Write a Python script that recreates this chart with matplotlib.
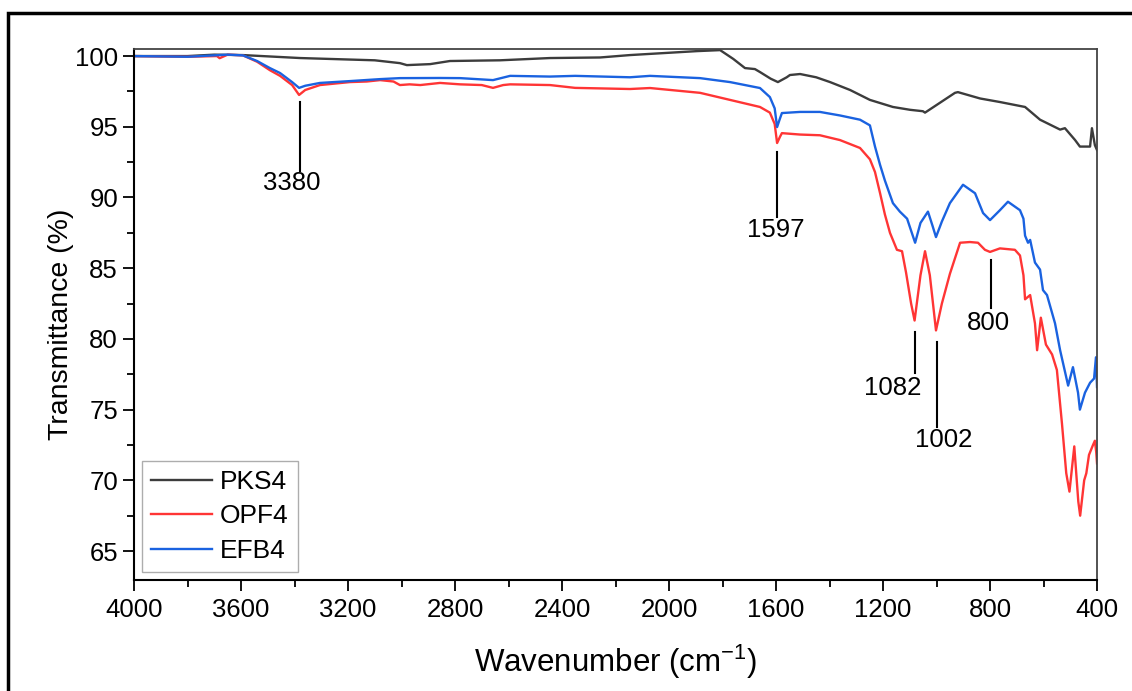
import matplotlib
matplotlib.use("Agg")
import matplotlib.pyplot as plt
from matplotlib.patches import Rectangle
from matplotlib.ticker import MultipleLocator

plt.rcParams["font.family"] = ["Liberation Sans", "DejaVu Sans"]
plt.rcParams["mathtext.fontset"] = "custom"
plt.rcParams["mathtext.rm"] = "Liberation Sans"
plt.rcParams["mathtext.it"] = "Liberation Sans"

# spectra: wavenumber (cm-1) and transmittance (%)
pks_wn = [4000, 3800, 3700, 3593, 3379, 3100, 3006, 2980, 2893, 2819, 2632,
          2445, 2258, 2146, 1895, 1809, 1760, 1716, 1679, 1660, 1620, 1593,
          1560, 1548, 1510, 1450, 1398, 1323, 1249, 1163, 1099, 1051, 1043,
          987, 931, 920, 837, 763, 669, 613, 538, 520, 482, 464, 426, 419,
          408, 400]
pks_t = [100.0, 100.0, 100.1, 100.07, 99.86, 99.7, 99.5, 99.36, 99.43, 99.65,
         99.7, 99.86, 99.9, 100.07, 100.35, 100.42, 99.8, 99.15, 99.08, 98.87,
         98.4, 98.16, 98.5, 98.66, 98.73, 98.5, 98.16, 97.6, 96.9, 96.4, 96.2,
         96.1, 96.0, 96.7, 97.4, 97.45, 97.0, 96.75, 96.4, 95.5, 94.8, 94.9,
         94.06, 93.6, 93.6, 94.9, 93.7, 93.35]

opf_wn = [4000, 3800, 3690, 3680, 3650, 3593, 3540, 3492, 3454, 3409, 3383,
          3360, 3305, 3193, 3130, 3080, 3030, 3006, 2970, 2930, 2856, 2781,
          2700, 2658, 2620, 2594, 2445, 2351, 2146, 2071, 1884, 1772, 1660,
          1623, 1605, 1596, 1585, 1578, 1510, 1436, 1361, 1286, 1249, 1230,
          1211, 1193, 1174, 1148, 1129, 1114, 1095, 1082, 1060, 1043, 1025,
          1002, 980, 950, 912, 875, 845, 819, 800, 763, 707, 688, 675, 669,
          650, 632, 624, 610, 591, 568, 550, 531, 515, 503, 485, 470, 463,
          448, 440, 430, 415, 408, 403, 400]
opf_t = [100.0, 99.95, 100.0, 99.85, 100.1, 100.05, 99.6, 99.0, 98.6, 97.95,
         97.25, 97.6, 97.95, 98.16, 98.2, 98.3, 98.2, 97.95, 98.0, 97.95, 98.1,
         98.0, 97.95, 97.75, 97.95, 98.0, 97.95, 97.75, 97.67, 97.74, 97.4,
         96.9, 96.4, 96.0, 95.2, 93.85, 94.3, 94.55, 94.45, 94.4, 94.06, 93.5,
         92.7, 91.8, 90.3, 88.8, 87.5, 86.3, 86.2, 84.7, 82.5, 81.3, 84.5,
         86.2, 84.5, 80.6, 82.5, 84.6, 86.8, 86.85, 86.8, 86.3, 86.15, 86.4,
         86.3, 85.9, 84.5, 82.8, 83.1, 81.1, 79.2, 81.5, 79.6, 78.9, 77.8,
         74.0, 70.5, 69.2, 72.4, 68.5, 67.5, 70.0, 70.5, 71.8, 72.5, 72.8,
         72.0, 71.2]

efb_wn = [4000, 3800, 3650, 3593, 3540, 3492, 3454, 3409, 3383, 3360, 3305,
          3193, 3080, 3006, 2856, 2781, 2658, 2594, 2445, 2351, 2146, 2071,
          1884, 1772, 1660, 1623, 1605, 1596, 1585, 1578, 1510, 1436, 1361,
          1286, 1249, 1230, 1211, 1193, 1163, 1137, 1110, 1080, 1060, 1032,
          1015, 1002, 980, 950, 901, 856, 826, 800, 763, 733, 688, 675, 669,
          658, 650, 632, 613, 602, 587, 557, 538, 508, 490, 471, 464, 445,
          426, 411, 404, 400]
efb_t = [100.0, 99.95, 100.1, 100.05, 99.65, 99.15, 98.8, 98.16, 97.75, 97.9,
         98.1, 98.23, 98.37, 98.44, 98.45, 98.44, 98.3, 98.6, 98.55, 98.6,
         98.5, 98.6, 98.44, 98.16, 97.74, 97.1, 96.3, 94.98, 95.6, 95.97,
         96.05, 96.05, 95.8, 95.5, 95.1, 93.6, 92.3, 91.2, 89.6, 89.0, 88.5,
         86.8, 88.2, 89.0, 88.0, 87.2, 88.3, 89.6, 90.9, 90.3, 88.9, 88.4,
         89.1, 89.7, 89.1, 88.5, 87.3, 86.8, 87.0, 85.4, 84.9, 83.45, 83.1,
         81.1, 79.2, 76.7, 78.0, 76.2, 75.0, 76.2, 76.9, 77.2, 78.7, 76.6]

series_names = ["PKS4", "OPF4", "EFB4"]
series_colors = ["#3c3c3c", "#ff3535", "#1a62e0"]

# peak labels: wavenumber, top and bottom of marker line, label centre
peak_labels = ["3380", "1597", "1082", "1002", "800"]
peak_wn = [3380, 1597, 1079, 999, 797]
peak_top = [96.75, 93.2, 80.5, 79.8, 85.6]
peak_bottom = [91.9, 88.6, 77.6, 73.8, 82.2]
label_wn = [3409, 1600, 1163, 975, 807]
label_t = [91.0, 87.7, 76.5, 72.85, 81.1]


def main():
    fig = plt.figure(figsize=(11.32, 6.91), dpi=100)
    ax = fig.add_axes([0.1184, 0.1606, 0.8507, 0.7685])

    for wn, t, name, col in zip([pks_wn, opf_wn, efb_wn],
                                [pks_t, opf_t, efb_t],
                                series_names, series_colors):
        ax.plot(wn, t, color=col, lw=1.7, label=name)

    for lab, w, top, bot, lw_, lt in zip(peak_labels, peak_wn, peak_top,
                                         peak_bottom, label_wn, label_t):
        ax.plot([w, w], [top, bot], color="black", lw=1.5)
        ax.text(lw_, lt, lab, ha="center", va="center", fontsize=18.5)

    ax.set_xlim(4000, 400)
    ax.set_ylim(62.95, 100.5)
    ax.xaxis.set_major_locator(MultipleLocator(400))
    ax.xaxis.set_minor_locator(MultipleLocator(200))
    ax.yaxis.set_major_locator(MultipleLocator(5))
    ax.yaxis.set_minor_locator(MultipleLocator(2.5))
    ax.tick_params(which="major", direction="out", length=8, width=1.3,
                   labelsize=18.5, top=False, right=False)
    ax.tick_params(which="minor", direction="out", length=5, width=1.3,
                   top=False, right=False)
    ax.tick_params(axis="x", pad=5)
    for side in ["left", "bottom"]:
        ax.spines[side].set_linewidth(1.5)
    for side in ["top", "right"]:
        ax.spines[side].set_linewidth(1.3)
        ax.spines[side].set_color("#444444")

    ax.set_xlabel(r"Wavenumber (cm$^{-1}$)", fontsize=22.5)
    ax.set_ylabel("Transmittance (%)", fontsize=20.5)
    ax.yaxis.set_label_coords(-0.062, 0.482)
    ax.xaxis.set_label_coords(0.5, -0.118)

    leg = ax.legend(loc="lower left", fontsize=19, frameon=True, fancybox=False,
                    handlelength=2.3, handletextpad=0.3, borderpad=0.35,
                    labelspacing=0.4, borderaxespad=0.3)
    leg.get_frame().set_edgecolor("#999999")
    leg.get_frame().set_linewidth(1.0)

    # outer frame around the figure
    fig.patches.append(Rectangle((8 / 1132, -0.05), 1.1, 1.05 - 13.5 / 691,
                                 transform=fig.transFigure, fill=False,
                                 edgecolor="black", lw=2.5))

    fig.savefig("out.png", dpi=100)


if __name__ == "__main__":
    main()
